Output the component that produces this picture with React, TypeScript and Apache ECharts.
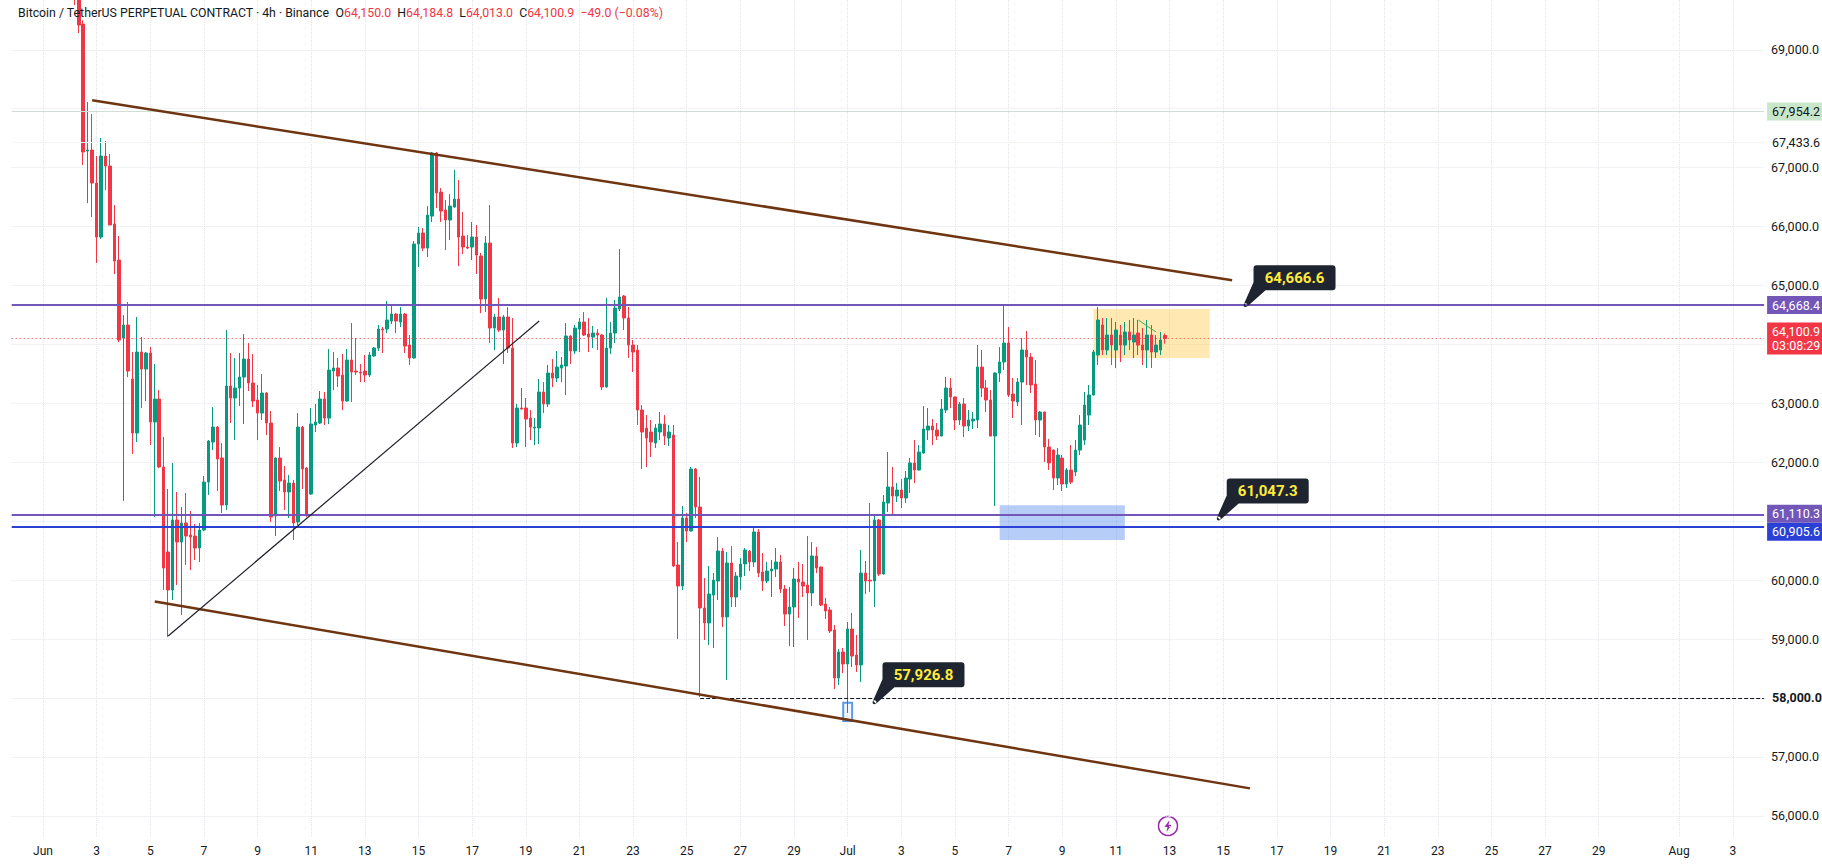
import React, { useEffect, useRef } from "react";
import * as echarts from "echarts";

// Rows are [open, close, high, low], 4h bars. First row is bar 7 counted from Jun 1 00:00.
const firstBar = 7;
const barsA = [
[70100,70000,70300,69760],[70000,69420,70200,69284],[69437,67265,69500,67044],[67282,67299,68113,66399],[67299,66738,67909,66161],
[66738,65822,67197,65381],[65822,67197,67502,65788],[67197,67027,67451,66620],[67027,66026,67231,66026],[66043,65415,66365,65194],
[65432,64074,65839,64040],[64108,64329,64498,61342],[64329,63548,64719,63446],[63412,62496,63871,62140],[62496,63871,64465,62343],
[63871,63582,64125,62920],[63582,63854,63871,63039],[63854,62683,63955,62292],[62683,63073,63667,61071],[63073,61919,63226,61900],
[61919,60205,62428,59832],[60477,59832,61546,59034],[59832,61020,61987,59662],[61020,60646,61495,59917],[60646,60969,61240,59407],
[60969,60748,61478,60256],[60765,60731,61172,60171],[60748,60544,60952,60341],[60544,60850,60969,60307],[60850,61664,61766,60830],
[61664,62360,62377,61444],[62343,62598,62937,62207],[62598,62055,62615,61512],[62072,61274,62326,61138],[61274,63294,64244,61189],
[63294,63090,63854,62666],[63090,63260,63769,62377],[63260,63446,63854,62954],[63446,63752,64176,62649],[63752,63345,64023,63209],
[63345,63039,63837,62937],[63056,62835,63311,62377],[62835,63175,63497,62717],[63175,62666,63190,62462],[62666,61071,62869,60986],
[61088,62072,62085,60748],[62072,61681,62258,61512],[61698,61495,61936,61189],[61495,61647,61783,61054],[61647,60969,61698,60680],
[60986,62598,62835,60935],[62598,61885,62615,61546],[61902,61105,61919,61071],[61461,62649,62920,61445],
];
const barsB = [
[62632,62683,62988,62513],[62666,63073,63209,62650],[63073,62750,63192,62632],[62750,63565,63922,62649],[63548,63599,63871,63226],
[63599,63463,63769,63277],[63480,63039,63837,62886],[63039,63735,63922,63030],[63735,63531,64363,63022],[63548,63531,64108,63480],
[63531,63514,63667,63361],[63548,63480,63820,63361],[63480,63820,63871,63446],[63803,63938,63955,63790],[63938,64261,64329,63888],
[64261,64244,64295,63854],[64261,64414,64736,64193],[64397,64515,64668,64346],[64515,64397,64532,64193],[64380,64515,64634,64295],
[64515,63972,64532,63854],[63989,63769,64159,63650],[63769,65703,65754,63760],[65703,65890,65992,65313],[65890,65635,65975,65585],
[65635,66195,66348,65483],[66178,67248,67265,66077],[67248,66569,67265,66314],[66586,66263,66654,66077],[66280,66111,66450,65602],
[66111,66348,66552,65771],[66331,66467,66959,66320],[66467,65822,66789,65330],[65839,65652,66246,65534],[65652,65635,65856,65620],
[65652,65822,66077,65432],[65822,65517,66026,65194],[65500,64770,65551,64532],[64770,65720,65839,64549],[65720,64278,66365,64023],
[64278,64465,64515,63905],[64465,64244,64787,64210],[64244,64465,64498,63667],[64465,63938,64634,63854],[63938,62326,64448,62241],
[62326,62920,62988,62258],[62920,62903,63260,62895],[62920,62733,63090,62258],[62750,62598,62886,62377],[62581,62598,62750,62292],
[62581,63192,63412,62309],[63192,62988,63361,62835],[62988,63514,63650,62937],[63514,63429,63752,63277],[63429,63616,63888,63361],
[63599,63650,63786,63361],[63633,64142,64363,63141],[64142,63888,64155,63667],[63888,64278,64329,63837],[64261,64380,64448,63871],
];
const barsC = [
[64380,64159,64549,64142],[64176,64125,64448,63871],[64125,64193,64312,63938],[64193,64159,64261,63905],[64159,63277,64176,63226],
[63277,63938,64787,63270],[63938,64193,64380,63837],[64193,64617,64753,64023],[64600,64804,65618,64566],[64821,64448,64838,64244],
[64448,63989,64634,63769],[63989,63871,64074,63531],[63905,62886,63989,62632],[62886,62513,62971,61885],[62581,62411,62801,61919],
[62513,62343,62717,62089],[62326,62581,62649,62241],[62513,62649,62852,62377],[62649,62445,62801,62292],[62411,62513,62632,62275],
[62462,60239,62632,60220],[60256,59900,60646,59000],[59900,61054,61257,59832],[61054,60833,61138,60646],[60833,61885,61919,60825],
[61885,61240,61902,61054],[61240,59526,61749,58016],[59526,59272,60035,58983],[59272,59764,60239,58898],[59747,59999,60120,58847],
[59985,60493,60731,59662],[60493,59374,60544,59204],[59374,60290,60477,58304],[60290,59713,60578,59543],[59713,60069,60137,59543],
[60052,60273,60375,59832],[60273,60510,60544,60069],[60493,60307,60510,60154],[60307,60816,60884,60222],[60816,60120,60867,60052],
[60137,59985,60460,59815],[59985,60154,60307,59950],[60154,60188,60341,59713],[60188,60307,60544,60052],[60307,59849,60426,59781],
[59849,59424,59917,59220],[59424,59543,59883,58881],[59543,60018,60205,58864],[60018,59967,60307,59357],[59967,59900,60273,59713],
[59917,59781,60748,58983],[59781,60409,60646,59560],[60409,60205,60561,60120],[60222,59577,60230,59560],[59594,59475,59696,59339],
[59492,59136,59543,59102],[59153,58338,59238,58152],[58338,58779,58830,58220],[58779,58576,58847,58423],[58576,59170,59289,57744],
];
const barsD = [
[59170,58711,59442,58525],[58728,58559,59068,58440],[58559,60120,60510,58270],[60120,59985,60324,59764],[59999,59985,61308,59798],
[59985,61020,61105,59543],[61020,60103,61037,60069],[60103,61325,61444,60095],[61308,61580,62173,61155],[61580,61427,61919,61105],
[61427,61529,61648,61325],[61529,61393,61715,61223],[61393,61732,61851,61308],[61715,61987,62072,61478],[61987,61868,62377,61647],
[61868,62173,62292,61860],[62157,62564,62954,62140],[62547,62615,62920,62377],[62615,62547,62734,62292],[62547,62445,62666,62377],
[62445,62903,63073,62440],[62886,63260,63446,62835],[63260,63107,63429,62920],[63107,62717,63115,62547],[62717,62988,63022,62632],
[62988,62615,63090,62428],[62615,62717,62886,62530],[62700,62733,62852,62564],[62717,63616,63989,62581],[63616,63260,63905,63107],
[63260,63056,63395,62852],[63056,62445,63226,62440],[62445,63514,63525,61257],[63514,63701,63955,63361],[63701,64023,64651,63565],
[64023,63141,64295,63107],[63158,63039,63429,62750],[63022,63361,63429,62954],[63361,63905,64108,62632],[63905,63786,64227,63311],
[63786,63311,63854,63175],[63328,62717,63735,62462],[62717,62852,62869,62428],[62852,62258,62860,62004],[62258,61987,62394,61868],
[62207,61732,62215,61529],[61732,62123,62241,61613],[62072,61631,62123,61512],[61631,61868,61902,61563],[61868,61664,62292,61631],
[61834,62207,62377,61766],[62207,62632,62801,62122],[62377,62971,63192,62292],[62801,63141,63311,62632],
[63141,63871,63905,63135],[63820,64414,64634,63650],[64329,63905,64448,63820],[63905,64159,64448,63820],[64159,63989,64448,63650],
[63905,64244,64380,63599],[64159,63989,64329,63701],[63989,64210,64380,63820],[64210,64074,64414,63905],[64040,64159,64448,63769],
[64193,63989,64414,63820],[63989,63905,64278,63650],[63905,64159,64414,63599],[64159,63871,64329,63599],[63871,63989,64159,63769],
[63905,64074,64210,63820],[64150,64100.9,64184.8,64013],
];

const gridPrices = [69000,68000,67000,66000,65000,64000,63000,62000,61000,60000,59000,58000,57000,56000];
const labelPrices = [69000,67000,66000,65000,63000,62000,60000,59000,57000,56000];

const upperChannel = { from: [11, 68142], to: [266, 65087] };
const lowerChannel = { from: [25, 59636], to: [270, 56465] };
const supportLine = { from: [28, 59051], to: [111, 64397] };
const pennantEdge = { from: [245, 64414], to: [249, 64210] };

const resistanceLevel = 64668.4;
const lastClose = 64100.9;
const upperBandLevel = 61110.3;
const lowerBandLevel = 60905.6;
const highLevel = 67954.2;
const midLevel = 67433.6;
const floorLevel = 58000;

const yellowZone = { from: [235, 64600], to: [261, 63770] };
const blueZone = { from: [214, 61270], to: [242, 60680] };
const lowBox = { from: [179, 57919], to: [181, 57609] };

const callouts = [
  { bar: 269, price: 64666.6 },
  { bar: 263, price: 61047.3 },
  { bar: 186, price: 57926.8 },
];

const headerName = "Bitcoin / TetherUS PERPETUAL CONTRACT · 4h · Binance";
const headerValues = [["O", "64,150.0"], ["H", "64,184.8"], ["L", "64,013.0"], ["C", "64,100.9"]];
const headerChange = "−49.0 (−0.08%)";

const leadBars = 7;      // axis slots before Jun 1
const slotCount = 393;
const UP = "#089981";
const DOWN = "#f23645";
const FONT = "Roboto, sans-serif";
const MONTHS = ["Jan","Feb","Mar","Apr","May","Jun","Jul","Aug","Sep"];

const slotDate = (s: number) => new Date(Date.UTC(2024, 5, 1) + (s - leadBars) * 4 * 3600 * 1000);
const categories = Array.from({ length: slotCount }, (_, s) => slotDate(s).toISOString());
const isTick = (s: number) => {
  const d = slotDate(s);
  return d.getUTCHours() === 0 && d.getUTCDate() % 2 === 1 && d.getUTCDate() !== 31;
};
const slot = (bar: number) => bar + leadBars;
const fmt = (v: number) => v.toLocaleString("en-US", { minimumFractionDigits: 1, maximumFractionDigits: 1 });

const candles = [...barsA, ...barsB, ...barsC, ...barsD].map((r, k) => [slot(firstBar + k), r[0], r[1], r[3], r[2]]);

const calloutShape =
  "path://M11 -40 H87 Q90 -40 90 -37 V-18 Q90 -15 87 -15 H20 L1.5 1.5 L-1.5 -1.5 L8 -23 V-37 Q8 -40 11 -40 Z M-2 0 A2 2 0 1 0 2 0 A2 2 0 1 0 -2 0 Z";

const tag = (bg: string, color: string, text: string, bold = false, dy = 0) => ({
  show: true,
  position: "end" as const,
  distance: 3,
  offset: [0, dy],
  formatter: text,
  backgroundColor: bg,
  color,
  fontFamily: FONT,
  fontSize: 12.5,
  fontWeight: bold ? ("bold" as const) : ("normal" as const),
  padding: [2, 5, 2, 5],
  lineHeight: 14,
  align: "left" as const,
});

const trend = (seg: { from: number[]; to: number[] }, color: string, width: number) => ({
  type: "line" as const,
  data: [[slot(seg.from[0]), seg.from[1]], [slot(seg.to[0]), seg.to[1]]],
  symbol: "none",
  silent: true,
  z: 6,
  lineStyle: { color, width },
});

const level = (v: number, color: string, width: number, type: any, label: any) => ({
  yAxis: v,
  lineStyle: { color, width, type },
  label,
});

export default function App() {
  const ref = useRef<HTMLDivElement>(null);
  useEffect(() => {
    document.body.style.margin = "0";
    document.body.style.overflow = "hidden";
    const chart = echarts.init(ref.current!, undefined, { renderer: "svg" });
    const rich: any = {
      n: { color: "#131722", fontFamily: FONT, fontSize: 12.3 },
      v: { color: DOWN, fontFamily: FONT, fontSize: 12.3 },
    };
    const headerText =
      `{n|${headerName}}{n|  }` +
      headerValues.map(([k, v]) => `{n|${k}}{v|${v}}{n|  }`).join("") +
      `{v|${headerChange}}`;

    chart.setOption({
      animation: false,
      backgroundColor: "#ffffff",
      title: { text: headerText, left: 18, top: 7, padding: 0, textStyle: { rich, fontFamily: FONT, fontSize: 12.3, fontWeight: "normal" } },
      grid: { left: 11.7, width: 1753.4, top: 0, height: 838, containLabel: false },
      xAxis: {
        type: "category",
        data: categories,
        boundaryGap: false,
        axisLine: { show: false },
        axisTick: { show: false },
        splitLine: {
          show: true,
          interval: (i: number) => isTick(i),
          lineStyle: { color: "#e3e5ea", type: "dotted", width: 1 },
        },
        axisLabel: {
          interval: (i: number) => isTick(i),
          hideOverlap: false,
          margin: 7,
          color: "#131722",
          fontFamily: FONT,
          fontSize: 12,
          formatter: (v: string) => {
            const d = new Date(v);
            return d.getUTCDate() === 1 ? MONTHS[d.getUTCMonth()] : String(d.getUTCDate());
          },
        },
      },
      yAxis: {
        type: "value",
        position: "right",
        min: 55623,
        max: 69845,
        scale: true,
        axisLine: { show: false },
        axisTick: { show: false, customValues: gridPrices },
        splitLine: { show: true, lineStyle: { color: "#e3e5ea", type: "dotted", width: 1 } },
        axisLabel: {
          customValues: labelPrices,
          margin: 7,
          color: "#131722",
          fontFamily: FONT,
          fontSize: 12.5,
          formatter: (v: number) => fmt(v),
        },
      },
      graphic: [
        {
          type: "group",
          x: 1168,
          y: 826,
          children: [
            { type: "circle", shape: { cx: 0, cy: 0, r: 9.5 }, style: { fill: "#fff", stroke: "#9c27b0", lineWidth: 1.5 } },
            { type: "polygon", shape: { points: [[1.5, -6], [-3.5, 1], [-0.5, 1], [-1.5, 6], [3.5, -1], [0.5, -1]] }, style: { fill: "#9c27b0" } },
          ],
        },
      ],
      series: [
        {
          type: "candlestick",
          data: candles,
          encode: { x: 0, y: [1, 2, 3, 4] },
          barWidth: 3,
          clip: true,
          itemStyle: { color: UP, color0: DOWN, borderColor: UP, borderColor0: DOWN, borderWidth: 1 },
          markArea: {
            silent: true,
            z: 1,
            data: [
              [
                { coord: [slot(yellowZone.from[0]), yellowZone.from[1]], itemStyle: { color: "rgba(255,200,70,0.42)" } },
                { coord: [slot(yellowZone.to[0]), yellowZone.to[1]] },
              ],
              [
                { coord: [slot(blueZone.from[0]), blueZone.from[1]], itemStyle: { color: "rgba(80,135,235,0.42)" } },
                { coord: [slot(blueZone.to[0]), blueZone.to[1]] },
              ],
              [
                {
                  coord: [slot(lowBox.from[0]), lowBox.from[1]],
                  itemStyle: { color: "rgba(80,135,235,0.08)", borderColor: "#5f9ce8", borderWidth: 2 },
                },
                { coord: [slot(lowBox.to[0]), lowBox.to[1]] },
              ],
            ],
          },
          markLine: {
            silent: true,
            symbol: "none",
            z: 5,
            data: [
              level(highLevel, "#cfe0d2", 1, "solid", tag("#c8e6c9", "#131722", fmt(highLevel))),
              level(midLevel, "#f1f6f1", 1, "solid", { ...tag("transparent", "#131722", fmt(midLevel)) }),
              level(resistanceLevel, "#7257b8", 2, "solid", tag("#7257b8", "#ffffff", fmt(resistanceLevel))),
              level(lastClose, "#f23645", 1, [1, 3], tag("#f23645", "#ffffff", `${fmt(lastClose)}\n03:08:29`)),
              level(lowerBandLevel, "#2b40d6", 2, "solid", tag("#2b40d6", "#ffffff", fmt(lowerBandLevel), false, 5)),
              level(upperBandLevel, "#7257b8", 2, "solid", tag("#7257b8", "#ffffff", fmt(upperBandLevel), false, -1)),
              [
                {
                  coord: [slot(147), floorLevel],
                  lineStyle: { color: "#131722", width: 1, type: "dashed" },
                  label: tag("#ffffff", "#131722", fmt(floorLevel), true),
                },
                { coord: [slotCount - 1, floorLevel] },
              ],
            ],
          },
          markPoint: {
            silent: true,
            z: 8,
            data: callouts.map((c) => ({
              coord: [slot(c.bar), c.price],
              symbol: calloutShape,
              symbolSize: [92, 42],
              symbolOffset: [44, -19],
              symbolKeepAspect: false,
              itemStyle: { color: "#1e2530" },
              label: {
                show: true,
                position: "inside",
                offset: [5, -8.5],
                formatter: fmt(c.price),
                color: "#ffeb3b",
                fontFamily: FONT,
                fontWeight: "bold",
                fontSize: 15,
              },
            })),
          },
        },
        trend(upperChannel, "#6f3410", 2.5),
        trend(lowerChannel, "#6f3410", 2.5),
        trend(supportLine, "#1c1f28", 1.2),
        trend(pennantEdge, "#4caf50", 1),
      ],
    });
    return () => chart.dispose();
  }, []);
  return <div ref={ref} style={{ width: 1822, height: 865 }} />;
}
